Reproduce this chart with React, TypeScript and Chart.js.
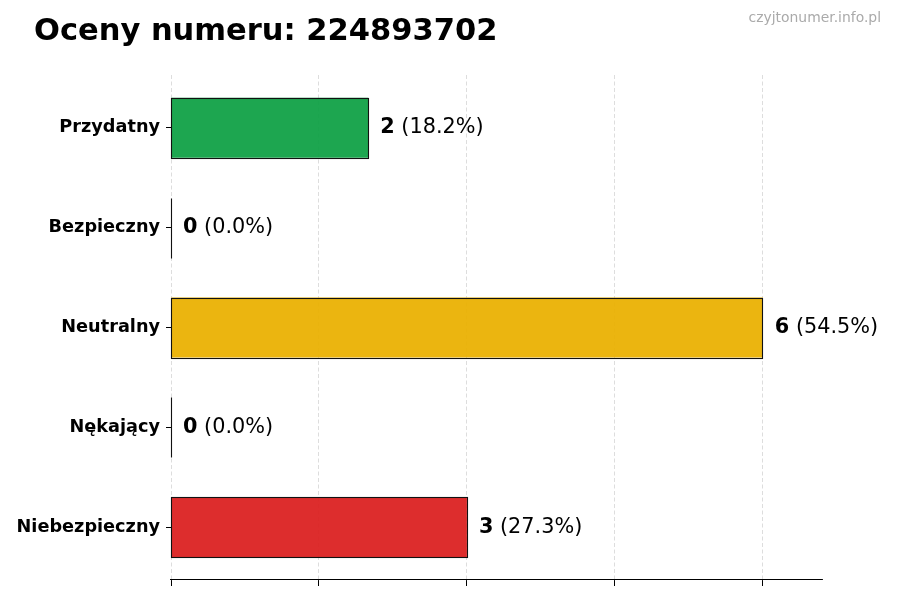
import React, { useEffect, useRef } from "react";
import { Chart, registerables } from "chart.js";

Chart.register(...registerables);

const TITLE = "Oceny numeru: 224893702";
const WATERMARK = "czyjtonumer.info.pl";
const categories = ["Przydatny", "Bezpieczny", "Neutralny", "Nękający", "Niebezpieczny"];
const counts = [2, 0, 6, 0, 3];
const percentLabels = ["18.2%", "0.0%", "54.5%", "0.0%", "27.3%"];
const barColors = [
  "rgba(22,163,74,0.97)",
  "rgba(37,99,235,0.97)",
  "rgba(234,179,8,0.97)",
  "rgba(249,115,22,0.97)",
  "rgba(220,38,38,0.97)",
];
const X_MAX = 6.6;
const X_STEP = 1.5;
const Y_MIN = -0.527;
const Y_MAX = 4.527;

const FONT = "'DejaVu Sans', sans-serif";

const overlayPlugin = {
  id: "overlay",
  afterDatasetsDraw(chart: any) {
    const ctx = chart.ctx;
    const meta = chart.getDatasetMeta(0);
    ctx.save();
    meta.data.forEach((bar: any, i: number) => {
      const p = bar.getProps(["x", "y", "base", "height"], true);
      const left = Math.min(p.base, p.x);
      const w = Math.abs(p.x - p.base);
      const top = p.y - p.height / 2;
      ctx.strokeStyle = "#111111";
      ctx.lineWidth = 1.1;
      ctx.strokeRect(Math.round(left) + 0.5, Math.round(top) + 0.5, Math.round(w), Math.round(p.height));
      const tx = Math.max(p.x, p.base) + 12;
      ctx.fillStyle = "#000000";
      ctx.textBaseline = "middle";
      ctx.textAlign = "left";
      const c = String(counts[i]);
      ctx.font = `bold 20.8px ${FONT}`;
      ctx.fillText(c, tx, p.y);
      const cw = ctx.measureText(c).width;
      ctx.font = `20.8px ${FONT}`;
      ctx.fillText(` (${percentLabels[i]})`, tx + cw, p.y);
    });
    ctx.restore();
  },
  afterDraw(chart: any) {
    const ctx = chart.ctx;
    ctx.save();
    ctx.fillStyle = "#000000";
    ctx.textAlign = "left";
    ctx.textBaseline = "alphabetic";
    ctx.font = `bold 30.5px ${FONT}`;
    ctx.fillText(TITLE, 34, 40);
    ctx.fillStyle = "#aaaaaa";
    ctx.textAlign = "right";
    ctx.font = `13.9px ${FONT}`;
    ctx.fillText(WATERMARK, 881, 22);
    ctx.restore();
  },
};

export default function App() {
  const canvasRef = useRef<HTMLCanvasElement | null>(null);

  useEffect(() => {
    document.body.style.margin = "0";
    const canvas = canvasRef.current;
    if (!canvas) return;
    const chart = new Chart(canvas, {
      type: "bar",
      data: {
        datasets: [
          {
            data: counts.map((c, i) => ({ x: c, y: i })),
            backgroundColor: barColors,
            borderWidth: 0,
            categoryPercentage: 1,
            barPercentage: 0.6,
          },
        ],
      },
      options: {
        indexAxis: "y",
        animation: false,
        responsive: false,
        devicePixelRatio: 1,
        layout: { padding: { left: 0, right: 78, top: 75, bottom: 0 } },
        plugins: {
          legend: { display: false },
          title: { display: false },
          tooltip: { enabled: false },
        },
        scales: {
          x: {
            type: "linear",
            min: 0,
            max: X_MAX,
            afterFit(scale: any) {
              scale.height = 20;
            },
            ticks: { stepSize: X_STEP, display: false, includeBounds: false },
            grid: {
              color: "#d4d4d4",
              lineWidth: 0.8,
              drawTicks: true,
              tickLength: 6,
              tickColor: "#000000",
              tickWidth: 1,
              tickBorderDash: [],
            },
            border: { display: true, color: "#000000", width: 1.1, dash: [4, 2.5] },
          },
          y: {
            type: "linear",
            min: Y_MIN,
            max: Y_MAX,
            reverse: true,
            offset: false,
            afterFit(scale: any) {
              scale.width = 171;
            },
            afterBuildTicks(scale: any) {
              scale.ticks = categories.map((_, i) => ({ value: i }));
            },
            ticks: {
              color: "#000000",
              padding: 6,
              autoSkip: false,
              callback: (v: any) => categories[Math.round(Number(v))] ?? "",
              font: { family: FONT, size: 17.7, weight: "bold" },
            },
            grid: {
              offset: false,
              drawOnChartArea: false,
              drawTicks: true,
              tickLength: 5,
              tickColor: "#000000",
              tickWidth: 1,
            },
            border: { display: false },
          },
        },
      } as any,
      plugins: [overlayPlugin],
    });
    return () => chart.destroy();
  }, []);

  return (
    <div style={{ position: "absolute", left: 0, top: 0, width: 900, height: 600, background: "#ffffff" }}>
      <canvas ref={canvasRef} width={900} height={600} />
    </div>
  );
}
